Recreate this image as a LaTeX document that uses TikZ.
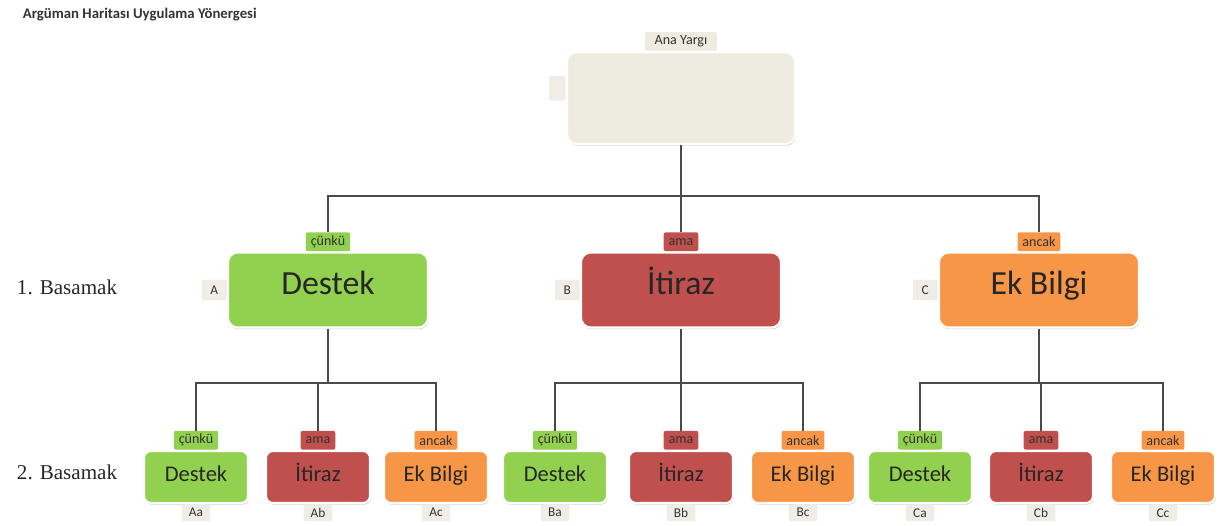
\documentclass[tikz,border=0pt]{standalone}
\usepackage{fontspec}
\setmainfont{Carlito}
\newfontfamily\serifface{Liberation Serif}
\usetikzlibrary{positioning,shadows}

\definecolor{destek}{HTML}{92D050}
\definecolor{itiraz}{HTML}{C0504D}
\definecolor{ekbilgi}{HTML}{F79646}
\definecolor{yargi}{HTML}{EEECE1}
\definecolor{tagfill}{HTML}{EFEDE6}
\definecolor{wire}{HTML}{4A4A4A}

\begin{document}
\begin{tikzpicture}[
    x=0.025cm, y=-0.025cm,
    box/.style={rectangle, rounded corners=7pt, draw=white, line width=1.5pt,
        drop shadow={shadow xshift=0.6pt, shadow yshift=-1.2pt, fill=black!35},
        text=black!85, inner sep=0pt, text height=1.6ex, text depth=0.3ex},
    big/.style={box, minimum width=5cm, minimum height=1.875cm, font=\fontsize{24}{28}\selectfont},
    kid/.style={box, rounded corners=5pt, minimum width=2.6cm, minimum height=1.3cm, font=\fontsize{16}{19}\selectfont},
    root/.style={box, fill=yargi, minimum width=5.7cm, minimum height=2.3cm},
    tab/.style={rectangle, rounded corners=1.5pt, minimum height=0.47cm, inner xsep=3.5pt, inner ysep=0pt,
        font=\fontsize{10}{12}\selectfont, text=black!80},
    tag/.style={rectangle, rounded corners=1.5pt, fill=tagfill, inner sep=0pt,
        font=\fontsize{9.5}{11}\selectfont, text=black!80},
    side/.style={tag, minimum width=0.62cm, minimum height=0.52cm},
    foot/.style={tag, minimum width=0.72cm, minimum height=0.42cm},
    link/.style={draw=wire, line width=0.9pt},
    level/.style={font=\serifface\fontsize{15}{18}\selectfont, text=black!85, anchor=west}
]
\useasboundingbox (0,0) rectangle (1224,526);

% --- Title ---
\node[anchor=west, font=\bfseries\fontsize{10.5}{12}\selectfont, text=black!80] (title) at (18,15) {Argüman Haritası Uygulama Yönergesi};

% --- Ana Yargi ---
\node[root] (main) at (681,98) {};
\node[tab, fill=yargi, minimum width=1.8cm, above=0pt of main] (tmain) {Ana Yargı};
\node[tag, minimum width=0.42cm, minimum height=0.62cm, anchor=east] (smain) at ([yshift=7pt]main.west) {};

% --- 1. Basamak ---
\node[level] (lv1) at (12,287) {1. Basamak};
\node[big, fill=destek] (A) at (328,290) {Destek};
\node[big, fill=itiraz] (B) at (681,290) {İtiraz};
\node[big, fill=ekbilgi] (C) at (1039,290) {Ek Bilgi};

\node[tab, fill=destek, above=0pt of A] (tA) {çünkü};
\node[tab, fill=itiraz, above=0pt of B] (tB) {ama};
\node[tab, fill=ekbilgi, above=0pt of C] (tC) {ancak};

\node[side, left=0pt of A] (sA) {A};
\node[side, left=0pt of B] (sB) {B};
\node[side, left=0pt of C] (sC) {C};

\coordinate (j0) at (main.south |- 0,196);
\draw[link] (main.south) -- (j0);
\draw[link] (j0) -| (tA.north);
\draw[link] (j0) -| (tC.north);
\draw[link] (j0) -| (tB.north);

% --- 2. Basamak ---
\node[level] (lv2) at (12,472) {2. Basamak};
\foreach \p/\xa/\xb/\xc in {A/196/318/436, B/555/681/803, C/920/1041/1163} {
    \node[kid, fill=destek] (\p a) at (\xa,477) {Destek};
    \node[kid, fill=itiraz] (\p b) at (\xb,477) {İtiraz};
    \node[kid, fill=ekbilgi] (\p c) at (\xc,477) {Ek Bilgi};

    \node[tab, fill=destek, above=0pt of \p a] (t\p a) {çünkü};
    \node[tab, fill=itiraz, above=0pt of \p b] (t\p b) {ama};
    \node[tab, fill=ekbilgi, above=0pt of \p c] (t\p c) {ancak};

    \node[foot, below=0pt of \p a] (f\p a) {\p a};
    \node[foot, below=0pt of \p b] (f\p b) {\p b};
    \node[foot, below=0pt of \p c] (f\p c) {\p c};

    \coordinate (j\p) at (\p.south |- 0,383);
    \draw[link] (\p.south) -- (j\p);
    \draw[link] (j\p) -| (t\p a.north);
    \draw[link] (j\p) -| (t\p c.north);
    \draw[link] (j\p) -| (t\p b.north);
}

\end{tikzpicture}
\end{document}
